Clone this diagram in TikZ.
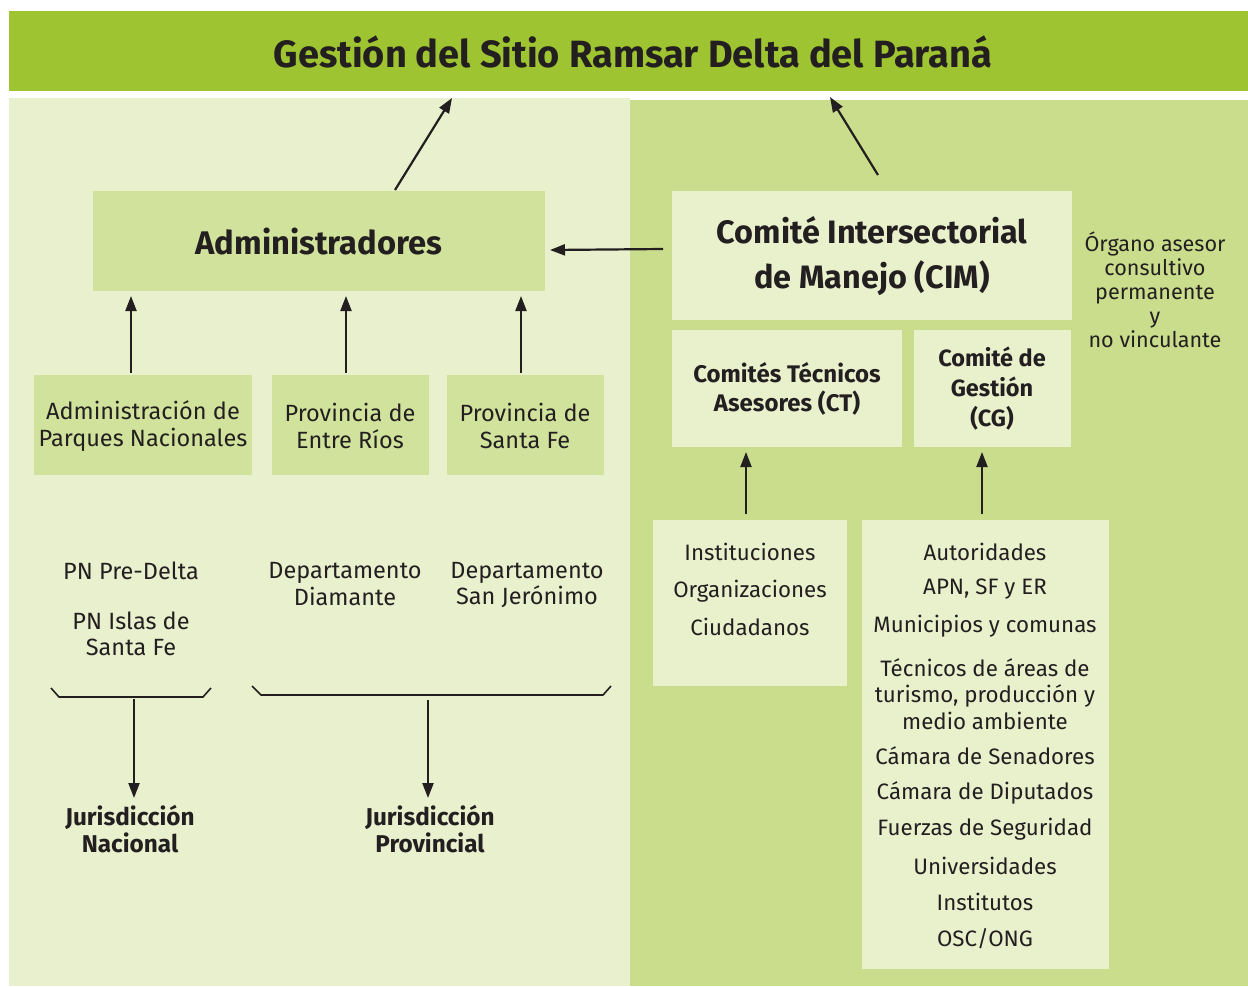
\documentclass[tikz,border=0pt]{standalone}
\usepackage{fontspec}
\setmainfont{Fira Sans}
\usetikzlibrary{arrows.meta}
\definecolor{hdr}{HTML}{9FC431}
\definecolor{lbg}{HTML}{E9F0CD}
\definecolor{rbg}{HTML}{C9DD8C}
\definecolor{boxg}{HTML}{D0E29B}
\definecolor{boxl}{HTML}{E9F0CC}
\definecolor{ink}{HTML}{231F20}
\tikzset{
  txt/.style={text=ink, align=center, font=\fontsize{23.5}{26.5}\selectfont, inner sep=0pt},
  rtxt/.style={txt, font=\fontsize{22.3}{26.5}\selectfont},
  btxt/.style={txt, font=\fontsize{24}{29}\selectfont\bfseries},
  arr/.style={draw=ink, line width=2.2pt, -{Triangle[length=15pt,width=11pt]}},
  brk/.style={draw=ink, line width=1.6pt},
}
\begin{document}
\begin{tikzpicture}[x=1pt,y=-1pt]
\useasboundingbox (0,0) rectangle (1248,986);
\fill[white] (0,0) rectangle (1248,986);
% backgrounds
\fill[hdr] (9,11) rectangle (1248,91);
\fill[lbg] (9,98) rectangle (630,986);
\fill[rbg] (630,100) rectangle (1248,986);
% boxes
\fill[boxg] (93,191) rectangle (545,291);
\fill[boxl] (672,191) rectangle (1072,320);
\fill[boxl] (672,330) rectangle (902,447);
\fill[boxl] (914,330) rectangle (1071,447);
\fill[boxg] (34,375) rectangle (252,475);
\fill[boxg] (272,375) rectangle (429,475);
\fill[boxg] (447,375) rectangle (604,475);
\fill[boxl] (653,520) rectangle (847,686);
\fill[boxl] (862,520) rectangle (1109,969);
% texts
\node[txt, font=\fontsize{38}{40}\selectfont\bfseries] (title) at (633,52) {Gestión del Sitio Ramsar Delta del Paraná};
\node[txt, font=\fontsize{32.7}{34}\selectfont\bfseries] (adm) at (319,242) {Administradores};
\node[txt, font=\fontsize{32.4}{45}\selectfont\bfseries] (cim) at (872,256) {Comité Intersectorial\\de Manejo (CIM)};
\node[txt, font=\fontsize{21.6}{24}\selectfont] (org) at (1155,290) {Órgano asesor\\consultivo\\permanente\\y\\no vinculante};
\node[btxt] (ct) at (787,389) {Comités Técnicos\\Asesores (CT)};
\node[btxt, font=\fontsize{23.5}{30}\selectfont\bfseries] (cg) at (992,389) {Comité de\\Gestión\\(CG)};
\node[txt] (apn) at (143,426) {Administración de\\Parques Nacionales};
\node[txt] (er) at (350,426) {Provincia de\\Entre Ríos};
\node[txt] (sf) at (525,426) {Provincia de\\Santa Fe};
\node[txt] (pnpd) at (131,571) {PN Pre-Delta};
\node[txt] (pnis) at (131,634) {PN Islas de\\Santa Fe};
\node[txt] (dd) at (345,584) {Departamento\\Diamante};
\node[txt] (dsj) at (527,585) {Departamento\\San Jerónimo};
\node[btxt, font=\fontsize{24.3}{27}\selectfont\bfseries] (jn) at (130,829) {Jurisdicción\\Nacional};
\node[btxt, font=\fontsize{24.3}{27}\selectfont\bfseries] (jp) at (430,829) {Jurisdicción\\Provincial};
\node[rtxt, font=\fontsize{22.3}{37.5}\selectfont] (inst) at (750,589) {Instituciones\\Organizaciones\\Ciudadanos};
\node[rtxt] (a1) at (985,552) {Autoridades};
\node[rtxt] (a2) at (985,589) {APN, SF y ER};
\node[rtxt] (a3) at (985,626) {Municipios y comunas};
\node[rtxt] (a4) at (985,694) {Técnicos de áreas de\\turismo, producción y\\medio ambiente};
\node[rtxt] (a5) at (985,756) {Cámara de Senadores};
\node[rtxt] (a6) at (985,793) {Cámara de Diputados};
\node[rtxt] (a7) at (985,829) {Fuerzas de Seguridad};
\node[rtxt] (a8) at (985,866) {Universidades};
\node[rtxt] (a9) at (985,902) {Institutos};
\node[rtxt] (a10) at (985,939) {OSC/ONG};
% arrow anchor coordinates
\coordinate (admtop) at (395,190);
\coordinate (t1) at (452,98);
\coordinate (cimtop) at (878,175);
\coordinate (t2) at (830,97);
\coordinate (cimleft) at (663,249);
\coordinate (admright) at (550,250);
\draw[arr] (admtop) -- (t1);
\draw[arr] (cimtop) -- (t2);
\draw[arr] (cimleft) -- (admright);
\coordinate (u1a) at (131,373); \coordinate (u1b) at (131,296);
\coordinate (u2a) at (346,373); \coordinate (u2b) at (346,296);
\coordinate (u3a) at (521,373); \coordinate (u3b) at (521,296);
\coordinate (u4a) at (746,514); \coordinate (u4b) at (746,452);
\coordinate (u5a) at (982,514); \coordinate (u5b) at (982,452);
\draw[arr] (u1a) -- (u1b);
\draw[arr] (u2a) -- (u2b);
\draw[arr] (u3a) -- (u3b);
\draw[arr] (u4a) -- (u4b);
\draw[arr] (u5a) -- (u5b);
% brackets
\draw[brk] (51,688) -- (59,697) -- (203,697) -- (211,688);
\draw[brk] (252,686) -- (261,695) -- (603,695) -- (611,686);
\coordinate (d1a) at (134,699); \coordinate (d1b) at (134,798);
\coordinate (d2a) at (428,700); \coordinate (d2b) at (428,798);
\draw[arr] (d1a) -- (d1b);
\draw[arr] (d2a) -- (d2b);
\end{tikzpicture}
\end{document}
